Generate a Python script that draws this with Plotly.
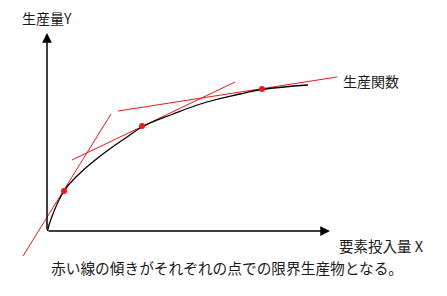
import plotly.graph_objects as go

# Production function curve (input X, output Y)
curve_x = [0.5, 4, 17, 30, 47, 64, 80, 95, 126, 160, 193, 215, 261]
curve_y = [0, 12, 40, 55, 70, 83, 94, 104, 117, 129, 137, 141.5, 146]

# Points of tangency
point_x = [17, 95, 215]
point_y = [40, 105, 142]

# Tangent line endpoints
tan1_x = [-24, 64]
tan1_y = [-25, 117]
tan2_x = [25, 188]
tan2_y = [71, 149]
tan3_x = [71, 290]
tan3_y = [120, 154]

# Axis extents
x_axis_end = 283
y_axis_end = 198

labels = {
    "y_axis": "生産量Y",
    "curve": "生産関数",
    "x_axis": "要素投入量 X",
    "note": "赤い線の傾きがそれぞれの点での限界生産物となる。",
}

RED = "#f01818"
FONT = "Noto Sans CJK JP"
TXT = "#1a1a1a"

fig = go.Figure()
for tx, ty in [(tan1_x, tan1_y), (tan2_x, tan2_y), (tan3_x, tan3_y)]:
    fig.add_trace(go.Scatter(x=tx, y=ty, mode="lines",
                             line=dict(color=RED, width=1), hoverinfo="skip"))
fig.add_trace(go.Scatter(x=curve_x, y=curve_y, mode="lines",
                         line=dict(color="black", width=1.3, shape="spline", smoothing=1.3),
                         hoverinfo="skip"))
fig.add_trace(go.Scatter(x=point_x, y=point_y, mode="markers",
                         marker=dict(color=RED, size=6), hoverinfo="skip"))

# Axes with arrows
fig.add_annotation(x=0, y=y_axis_end, ax=0, ay=0, xref="x", yref="y", axref="x", ayref="y",
                   showarrow=True, arrowhead=2, arrowsize=1.3, arrowwidth=1.5,
                   arrowcolor="black", text="")
fig.add_annotation(x=x_axis_end, y=0, ax=0, ay=0, xref="x", yref="y", axref="x", ayref="y",
                   showarrow=True, arrowhead=2, arrowsize=1.3, arrowwidth=1.5,
                   arrowcolor="black", text="")

fig.add_annotation(x=-27, y=213, text=labels["y_axis"], showarrow=False,
                   xanchor="left", yanchor="middle", font=dict(family=FONT, size=14, color=TXT))
fig.add_annotation(x=294, y=150, text=labels["curve"], showarrow=False,
                   xanchor="left", yanchor="middle", font=dict(family=FONT, size=14, color=TXT))
fig.add_annotation(x=290, y=-14, text=labels["x_axis"], showarrow=False,
                   xanchor="left", yanchor="middle", font=dict(family=FONT, size=14.5, color=TXT))
fig.add_annotation(x=2, y=-36, text=labels["note"], showarrow=False,
                   xanchor="left", yanchor="middle", font=dict(family=FONT, size=14.7, color=TXT))

fig.update_layout(
    width=447, height=296, autosize=False,
    margin=dict(l=0, r=0, t=0, b=0, pad=0),
    paper_bgcolor="white", plot_bgcolor="white",
    showlegend=False,
    xaxis=dict(range=[-47, 400], visible=False, fixedrange=True),
    yaxis=dict(range=[-65, 231], visible=False, fixedrange=True),
)
fig.write_html("out.html", config={"displayModeBar": False})
